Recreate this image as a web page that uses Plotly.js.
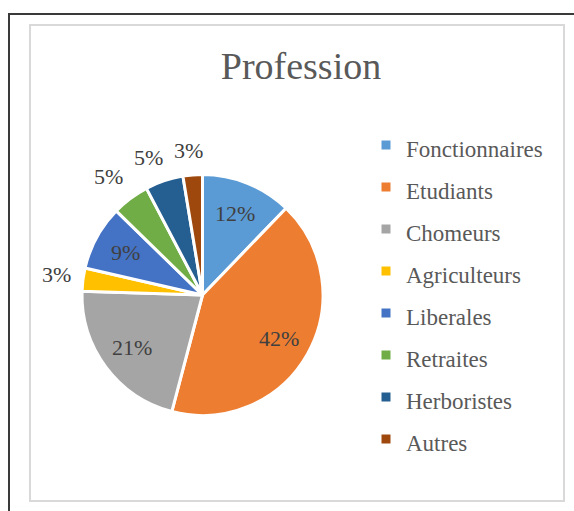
<!DOCTYPE html>
<html>
<head>
<meta charset="utf-8">
<script src="https://cdn.plot.ly/plotly-3.0.1.min.js"></script>
<style>
  html, body { margin: 0; padding: 0; width: 574px; height: 511px; overflow: hidden; background: #ffffff; }
  #outer { position: absolute; left: 8px; top: 13px; width: 700px; height: 700px;
           border-left: 2px solid #3a3a3a; border-top: 2px solid #3a3a3a; box-sizing: border-box; }
  #inner { position: absolute; left: 29px; top: 24px; width: 536px; height: 478px;
           border: 2px solid #d9d9d9; box-sizing: border-box; }
  #chart { position: absolute; left: 0; top: 0; width: 574px; height: 511px; }
</style>
</head>
<body>
<div id="outer"></div>
<div id="inner"></div>
<div id="chart"></div>
<script>
const chartTitle = 'Profession';
const labels = ['Fonctionnaires', 'Etudiants', 'Chomeurs', 'Agriculteurs', 'Liberales', 'Retraites', 'Herboristes', 'Autres'];
const values = [12.2, 41.9, 21.4, 3.1, 8.7, 5.0, 5.1, 2.6];
const colors = ['#5B9BD5', '#ED7D31', '#A5A5A5', '#FFC000', '#4472C4', '#70AD47', '#255E91', '#9E480E'];
const labelPlacement = ['inside', 'inside', 'inside', 'outside', 'inside', 'outside', 'outside', 'outside'];

const W = 574, H = 511;
const cx = 202.5, cy = 295, R = 120.5;
const serif = 'Liberation Serif, Times New Roman, serif';

const legendLabels = labels.map(l => '<span style="font-size:23px">' + l + '</span>');

const trace = {
  type: 'pie',
  labels: legendLabels,
  values: values,
  sort: false,
  direction: 'clockwise',
  rotation: 0,
  marker: { colors: colors, line: { color: '#ffffff', width: 3 } },
  textinfo: 'none',
  domain: {
    x: [(cx - R) / W, (cx + R) / W],
    y: [(H - cy - R) / H, (H - cy + R) / H]
  },
  hoverinfo: 'label+percent'
};

// percentage labels placed from the slice mid-angles computed from the values
const total = values.reduce((a, b) => a + b, 0);
const annotations = [];
let cum = 0;
const clamp = v => Math.max(-1, Math.min(1, v));
values.forEach((v, i) => {
  const mid = (cum + v / 2) / total * 2 * Math.PI;
  cum += v;
  const dx = Math.sin(mid), dy = -Math.cos(mid);
  let px, py;
  if (labelPlacement[i] === 'inside') {
    px = cx + dx * R * 0.73;
    py = cy + dy * R * 0.73;
  } else {
    const rr = R + 12;
    px = cx + dx * rr + clamp(dx * 2.5) * 15;
    py = cy + dy * rr + clamp(dy * 2.5) * 12;
  }
  annotations.push({
    xref: 'paper', yref: 'paper',
    x: px / W, y: 1 - py / H,
    xanchor: 'center', yanchor: 'middle',
    text: Math.round(v / total * 100) + '%',
    showarrow: false,
    font: { family: serif, size: 22, color: '#404040' }
  });
});

const layout = {
  width: W, height: H,
  margin: { l: 0, r: 0, t: 0, b: 0 },
  paper_bgcolor: 'rgba(0,0,0,0)',
  plot_bgcolor: 'rgba(0,0,0,0)',
  title: {
    text: chartTitle,
    font: { family: serif, size: 38, color: '#595959' },
    x: 301 / W, xanchor: 'center',
    y: 1 - 66 / H, yanchor: 'middle'
  },
  showlegend: true,
  legend: {
    x: 366 / W, xanchor: 'left',
    y: 1 - 119 / H, yanchor: 'top',
    font: { family: serif, size: 30, color: '#595959' },
    bgcolor: 'rgba(0,0,0,0)',
    borderwidth: 0
  },
  annotations: annotations
};

Plotly.newPlot('chart', [trace], layout, { displayModeBar: false, staticPlot: true });
</script>
</body>
</html>
